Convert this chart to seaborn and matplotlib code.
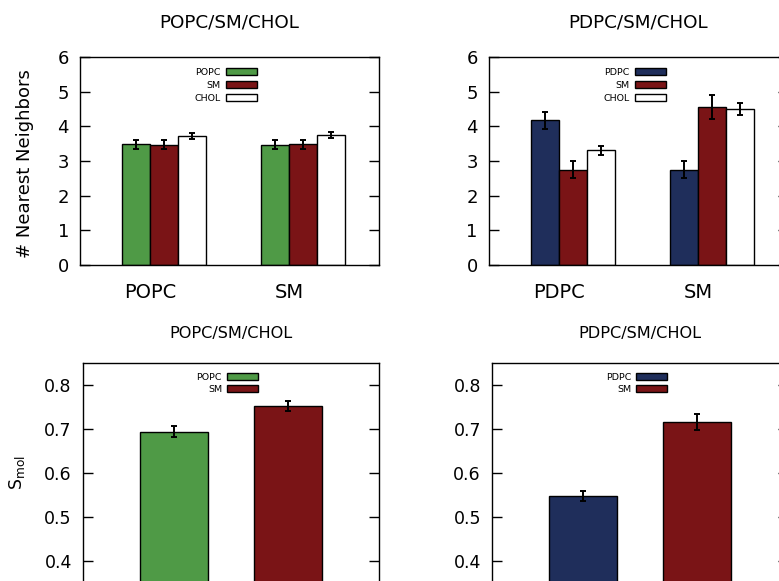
import numpy as np
import pandas as pd
import matplotlib
matplotlib.use("Agg")
import matplotlib.pyplot as plt
from matplotlib.patches import Patch
import seaborn as sns

# data
nn_groups = ["POPC", "SM"]
nn_popc_species = ["POPC", "SM", "CHOL"]
nn_popc_vals = [[3.48, 3.47, 3.72], [3.47, 3.48, 3.75]]
nn_popc_errs = [[0.12, 0.13, 0.09], [0.13, 0.12, 0.09]]

nn_pdpc_groups = ["PDPC", "SM"]
nn_pdpc_species = ["PDPC", "SM", "CHOL"]
nn_pdpc_vals = [[4.17, 2.75, 3.31], [2.75, 4.55, 4.50]]
nn_pdpc_errs = [[0.24, 0.24, 0.13], [0.24, 0.35, 0.18]]

smol_popc_species = ["POPC", "SM"]
smol_popc_vals = [0.694, 0.752]
smol_popc_errs = [0.013, 0.012]

smol_pdpc_species = ["PDPC", "SM"]
smol_pdpc_vals = [0.548, 0.716]
smol_pdpc_errs = [0.012, 0.018]

title = "POPC/SM/CHOL"
title2 = "PDPC/SM/CHOL"

GREEN = "#4f9a46"
RED = "#7a1416"
NAVY = "#1f2e5b"
WHITE = "#ffffff"

sns.set_style("white")
plt.rcParams["font.family"] = ["DejaVu Sans"]
for k in ["text.color", "axes.labelcolor", "xtick.color", "ytick.color"]:
    plt.rcParams[k] = "black"

fig = plt.figure(figsize=(7.79, 5.81), dpi=100)


def style_axis(ax, ytick_size):
    for s in ax.spines.values():
        s.set_visible(True)
        s.set_color("black")
        s.set_linewidth(1.0)
    ax.tick_params(axis="y", direction="in", length=7, width=1,
                   left=True, right=True, labelsize=ytick_size, pad=8)
    ax.tick_params(axis="x", length=0)


def legend(ax, names, colors, anchor, spacing):
    handles = [Patch(facecolor=c, edgecolor="black", linewidth=1) for c in colors]
    ax.legend(handles, names, loc="upper right", bbox_to_anchor=anchor,
              frameon=False, fontsize=6.8, markerfirst=False,
              handlelength=3.3, handleheight=0.8, labelspacing=spacing,
              handletextpad=0.5)


def clustered(rect, groups, species, vals, errs, colors, ttl, ylabel):
    ax = fig.add_axes(rect)
    rows = []
    for gi, g in enumerate(groups):
        for si, s in enumerate(species):
            rows.append({"group": g, "species": s,
                         "value": vals[gi][si], "err": errs[gi][si]})
    df = pd.DataFrame(rows)
    sns.barplot(data=df, x="group", y="value", hue="species",
                order=groups, hue_order=species, palette=colors,
                saturation=1, width=0.6, edgecolor="black", linewidth=1.0,
                errorbar=None, legend=False, ax=ax)
    bars = list(ax.containers)
    for si, cont in enumerate(bars):
        sub = df[df["species"] == species[si]].set_index("group").loc[groups]
        xs = [b.get_x() + b.get_width() / 2 for b in cont]
        ax.errorbar(xs, sub["value"], yerr=sub["err"], fmt="none",
                    ecolor="black", elinewidth=1.4, capsize=2.5, capthick=1.4)
    ax.set_xlim(-0.604, 1.547)
    ax.set_ylim(0, 6)
    ax.set_yticks(range(0, 7))
    bw = 0.6 / len(species)
    ax.set_xticks(np.arange(len(groups)) - bw / 2)
    ax.set_xticklabels(groups, fontsize=14)
    ax.tick_params(axis="x", pad=13)
    ax.set_xlabel("")
    style_axis(ax, 13)
    ax.set_title(ttl, fontsize=13.2, pad=21)
    if ylabel:
        ax.set_ylabel(ylabel, fontsize=13)
        ax.yaxis.set_label_coords(-0.155, 0.49)
    else:
        ax.set_ylabel("")
    legend(ax, species, colors, (0.62, 0.99), 0.45)
    return ax


def simple(rect, species, vals, errs, colors, ttl, ylabel):
    ax = fig.add_axes(rect)
    df = pd.DataFrame({"species": species, "value": vals, "err": errs})
    sns.barplot(data=df, x="species", y="value", hue="species",
                order=species, hue_order=species, palette=colors,
                saturation=1, width=0.6, edgecolor="black", linewidth=1.0,
                errorbar=None, legend=False, ax=ax)
    bars = list(ax.containers)
    for cont, (_, r) in zip(bars, df.iterrows()):
        for b in cont:
            ax.errorbar(b.get_x() + b.get_width() / 2, r["value"], yerr=r["err"],
                        fmt="none", ecolor="black", elinewidth=1.4,
                        capsize=2.5, capthick=1.4)
    ax.set_xlim(-0.8, 1.8)
    ax.set_ylim(0.3, 0.85)
    ax.set_yticks([0.4, 0.5, 0.6, 0.7, 0.8])
    ax.set_yticklabels(["0.4", "0.5", "0.6", "0.7", "0.8"])
    ax.set_xticks([])
    ax.set_xlabel("")
    style_axis(ax, 12.5)
    ax.set_title(ttl, fontsize=11.6, pad=18)
    if ylabel:
        ax.set_ylabel(ylabel, fontsize=12.5)
        ax.yaxis.set_label_coords(-0.19, 0.545)
    else:
        ax.set_ylabel("")
    legend(ax, species, colors, (0.62, 0.995), 0.3)
    return ax


clustered([0.1027, 0.5439, 0.3838, 0.358], nn_groups, nn_popc_species,
          nn_popc_vals, nn_popc_errs, [GREEN, RED, WHITE], title,
          "# Nearest Neighbors")
clustered([0.6277, 0.5439, 0.3838, 0.358], nn_pdpc_groups, nn_pdpc_species,
          nn_pdpc_vals, nn_pdpc_errs, [NAVY, RED, WHITE], title2, None)

simple([0.1065, -0.0413, 0.380, 0.4165], smol_popc_species, smol_popc_vals,
       smol_popc_errs, [GREEN, RED], title, r"S$_{\mathrm{mol}}$")
simple([0.6316, -0.0413, 0.380, 0.4165], smol_pdpc_species, smol_pdpc_vals,
       smol_pdpc_errs, [NAVY, RED], title2, None)

fig.savefig("out.png", dpi=100)
